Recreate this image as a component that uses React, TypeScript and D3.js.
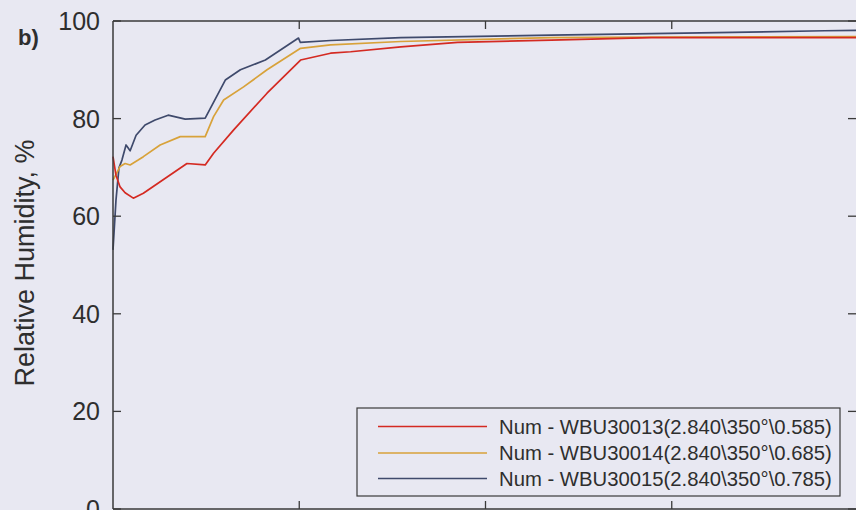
import React from "react";
import * as d3 from "d3";

const W = 856;
const H = 510;

// x in arbitrary time units (0..400), y in % RH
const redX = [0, 1.6, 3.8, 6.5, 10.9, 16.3, 39.7, 49.5, 54.0, 64.8, 82.7, 100.7, 116.8, 127.6, 154.5, 185.0, 235.3, 289.1, 382.1, 400];
const redY = [72.2, 68.4, 66.0, 64.8, 63.7, 64.7, 70.8, 70.5, 72.9, 77.7, 85.2, 92.0, 93.4, 93.7, 94.7, 95.6, 96.1, 96.6, 96.6, 96.6];

const orangeX = [0, 2.2, 3.8, 6.5, 9.2, 13.5, 16.3, 25.3, 36.1, 49.5, 54.0, 59.4, 70.1, 82.7, 100.7, 116.8, 154.5, 235.3, 289.1, 400];
const orangeY = [67.4, 69.0, 70.2, 70.8, 70.5, 71.5, 72.2, 74.6, 76.3, 76.3, 80.4, 83.8, 86.5, 90.0, 94.4, 95.1, 95.8, 96.6, 96.7, 96.8];

const blueX = [0, 1.6, 3.2, 4.8, 7.0, 9.2, 12.4, 17.2, 22.6, 29.6, 38.8, 49.5, 60.3, 68.4, 81.8, 99.6, 100.6, 116.8, 154.5, 235.3, 306.9, 382.1, 400];
const blueY = [53.1, 63.3, 69.9, 71.5, 74.6, 73.4, 76.6, 78.7, 79.7, 80.7, 79.9, 80.1, 87.9, 90.0, 92.0, 96.5, 95.6, 96.0, 96.6, 97.1, 97.5, 98.0, 98.1];

const yTicks = [0, 20, 40, 60, 80, 100];
const xTicks = [100, 200, 300];

const seriesNames = [
  "Num - WBU30013(2.840\\350°\\0.585)",
  "Num - WBU30014(2.840\\350°\\0.685)",
  "Num - WBU30015(2.840\\350°\\0.785)",
];
const seriesColors = ["#d42a22", "#d8a23a", "#3f4a6c"];

const FONT = "'Liberation Sans', Arial, sans-serif";

export default function App() {
  const x = d3.scaleLinear().domain([0, 400]).range([113, 858]);
  const y = d3.scaleLinear().domain([0, 100]).range([509, 21]);
  const line = d3
    .line<[number, number]>()
    .x((d) => x(d[0]))
    .y((d) => y(d[1]));

  const series = [
    d3.zip(redX, redY) as [number, number][],
    d3.zip(orangeX, orangeY) as [number, number][],
    d3.zip(blueX, blueY) as [number, number][],
  ];

  const left = x(0);
  const right = x(400);
  const top = y(100);
  const bottom = y(0);
  const tickLen = 8;
  const axisColor = "#3a3a3a";

  const legX = 357;
  const legY = 408;
  const legW = 483;
  const legH = 88;
  const rowY = [426.5, 453, 478.5];

  return (
    <svg
      width={W}
      height={H}
      style={{ position: "absolute", left: 0, top: 0, display: "block" }}
      fontFamily={FONT}
    >
      <rect x={0} y={0} width={W} height={H} fill="#e8e8f2" />

      {/* data lines (drawn in reverse so red is on top) */}
      {[2, 1, 0].map((i) => (
        <path
          key={i}
          d={line(series[i]) || ""}
          fill="none"
          stroke={seriesColors[i]}
          strokeWidth={1.7}
          strokeLinejoin="round"
        />
      ))}

      {/* frame */}
      <line x1={left} x2={left} y1={top} y2={bottom} stroke={axisColor} strokeWidth={1.5} />
      <line x1={left} x2={right} y1={top} y2={top} stroke={axisColor} strokeWidth={1.5} />
      <line x1={left} x2={right} y1={bottom} y2={bottom} stroke={axisColor} strokeWidth={1.5} />
      <line x1={right} x2={right} y1={top} y2={bottom} stroke={axisColor} strokeWidth={1.5} />

      {/* y ticks */}
      {yTicks.map((t) => (
        <g key={"y" + t}>
          <line x1={left} x2={left + tickLen} y1={y(t)} y2={y(t)} stroke={axisColor} strokeWidth={1.3} />
          <line x1={right} x2={right - tickLen - 2} y1={y(t)} y2={y(t)} stroke={axisColor} strokeWidth={1.3} />
          <text
            x={100}
            y={y(t)}
            textAnchor="end"
            dominantBaseline="central"
            fontSize={25}
            fill="#2e2e2e"
          >
            {t}
          </text>
        </g>
      ))}

      {/* x ticks */}
      {xTicks.map((t) => (
        <g key={"x" + t}>
          <line x1={x(t)} x2={x(t)} y1={top} y2={top + tickLen} stroke={axisColor} strokeWidth={1.3} />
          <line x1={x(t)} x2={x(t)} y1={bottom} y2={bottom - tickLen} stroke={axisColor} strokeWidth={1.3} />
        </g>
      ))}

      {/* y axis label */}
      <text
        transform={`translate(34,263) rotate(-90)`}
        textAnchor="middle"
        fontSize={27}
        fill="#2e2e2e"
      >
        Relative Humidity, %
      </text>

      {/* panel label */}
      <text x={18} y={45} fontSize={22} fontWeight="bold" fill="#2e2e2e">
        b)
      </text>

      {/* legend */}
      <rect x={legX} y={legY} width={legW} height={legH} fill="#e8e8f2" stroke="#3a3a3a" strokeWidth={1.2} />
      {seriesNames.map((name, i) => (
        <g key={name}>
          <line x1={378} x2={487} y1={rowY[i]} y2={rowY[i]} stroke={seriesColors[i]} strokeWidth={1.7} />
          <text x={499} y={rowY[i]} dominantBaseline="central" fontSize={20.3} fill="#2e2e2e">
            {name}
          </text>
        </g>
      ))}
    </svg>
  );
}
